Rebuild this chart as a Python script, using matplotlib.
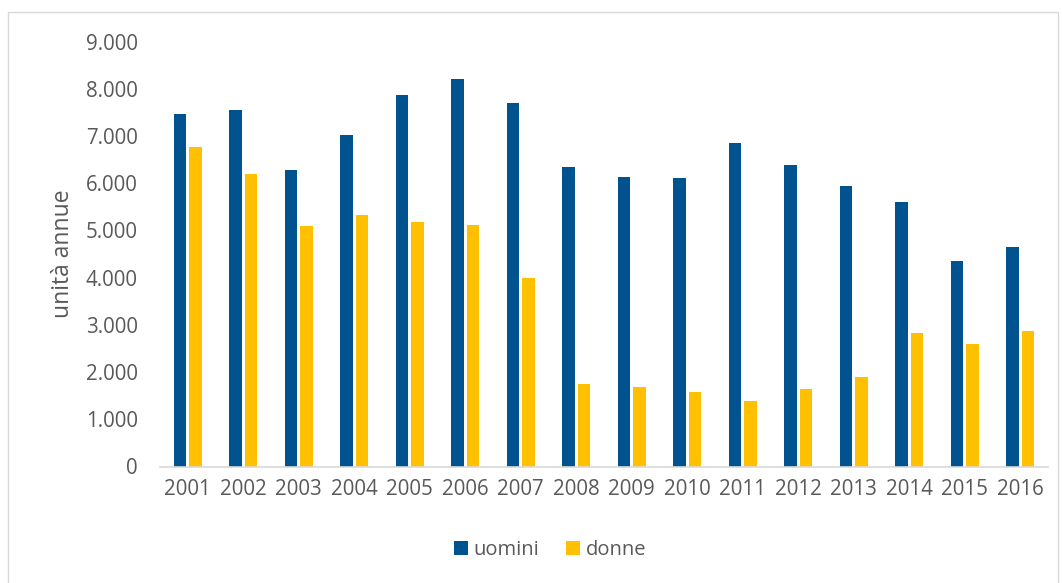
import matplotlib
matplotlib.use("Agg")
import matplotlib.pyplot as plt
import matplotlib.patches as mpatches
import matplotlib.ticker as mticker
import numpy as np

# data
years = ["2001", "2002", "2003", "2004", "2005", "2006", "2007", "2008",
         "2009", "2010", "2011", "2012", "2013", "2014", "2015", "2016"]
uomini = [7460, 7555, 6280, 7010, 7870, 8200, 7690, 6340,
          6120, 6100, 6840, 6380, 5930, 5600, 4350, 4640]
donne = [6770, 6190, 5090, 5330, 5180, 5110, 3990, 1750,
         1680, 1580, 1390, 1650, 1900, 2830, 2590, 2880]

blue = "#00538f"
gold = "#ffc000"
grey_txt = "#595959"

plt.rcParams['font.family'] = ['Open Sans', 'DejaVu Sans']

fig = plt.figure(figsize=(10.62, 5.83), dpi=100)
W, H = 1062, 583
ax = fig.add_axes([160 / W, 1 - 466.5 / H, (1048 - 160) / W, (466.5 - 41.5) / H])

x = np.arange(len(years))
bw = 0.225
off = 0.144
ax.bar(x - off, uomini, bw, color=blue, label="uomini")
ax.bar(x + off, donne, bw, color=gold, label="donne")

ax.set_xlim(-0.5, len(years) - 0.5)
ax.set_ylim(0, 9000)
ax.set_yticks(np.arange(0, 9001, 1000))
ax.yaxis.set_major_formatter(mticker.FuncFormatter(lambda v, p: f"{int(v):,}".replace(",", ".")))
ax.set_xticks(x)
ax.set_xticklabels(years)

for s in ["top", "right", "left"]:
    ax.spines[s].set_visible(False)
ax.spines["bottom"].set_color("#d9d9d9")
ax.spines["bottom"].set_linewidth(1.2)
ax.tick_params(axis="both", length=0, labelsize=14.8, colors=grey_txt)
ax.tick_params(axis="x", pad=9)
ax.tick_params(axis="y", pad=16)
ax.set_ylabel("unità annue", fontsize=16.5, color=grey_txt, labelpad=8)

fig.legend(loc="center", bbox_to_anchor=(550 / W, 1 - 550 / H), ncol=2, frameon=False,
           fontsize=14.5, labelcolor=grey_txt, handlelength=0.7, handleheight=0.7,
           handletextpad=0.3, columnspacing=1.3)

# outer chart border
fig.patches.append(mpatches.Rectangle((8 / W, -0.05), (1058 - 8) / W, 1 - 12 / H + 0.05,
                                      transform=fig.transFigure, fill=False,
                                      edgecolor="#d9d9d9", linewidth=1))

fig.savefig("out.png", dpi=100)
